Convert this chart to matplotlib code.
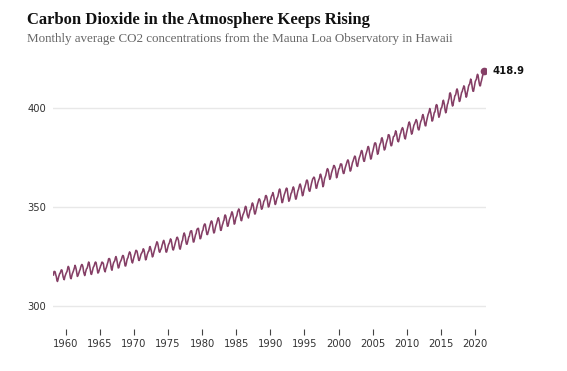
import pandas as pd
import matplotlib
matplotlib.use('Agg')
import matplotlib.pyplot as plt
import matplotlib.dates as mdates

# monthly mean CO2 (ppm), Mauna Loa, starting March 1958
start_month = '1958-03-01'
co2 = [
    315.70, 317.45, 317.51, 317.24, 315.86, 314.93, 313.20, 312.43, 313.33, 314.67,  # 1958
    315.58, 316.49, 316.65, 317.72, 318.29, 318.15, 316.54, 314.80, 313.84, 313.33, 314.81, 315.58,  # 1959
    316.43, 316.98, 317.58, 319.03, 320.03, 319.59, 318.18, 315.91, 314.16, 313.83, 315.00, 316.19,
    316.89, 317.70, 318.54, 319.48, 320.58, 319.77, 318.57, 316.79, 314.99, 315.31, 316.10, 317.01,
    317.94, 318.55, 319.68, 320.57, 321.02, 320.62, 319.61, 317.40, 316.25, 315.42, 316.69, 317.70,
    318.74, 319.07, 319.86, 321.38, 322.25, 321.48, 319.74, 317.77, 316.21, 315.99, 317.07, 318.35,
    319.57, 320.01, 320.74, 321.84, 322.26, 321.89, 320.44, 318.69, 316.70, 316.87, 317.68, 318.71,  # 1964
    319.44, 320.44, 320.89, 322.14, 322.17, 321.87, 321.21, 318.87, 317.81, 317.30, 318.87, 319.42,
    320.62, 321.59, 322.39, 323.87, 324.01, 323.75, 322.39, 320.37, 318.64, 318.10, 319.79, 321.08,
    322.07, 322.50, 323.04, 324.42, 325.00, 324.09, 322.54, 320.92, 319.25, 319.39, 320.73, 321.96,
    322.57, 323.15, 323.89, 325.02, 325.57, 325.36, 324.14, 322.11, 320.33, 320.25, 321.32, 322.89,
    324.00, 324.42, 325.63, 326.66, 327.38, 326.71, 325.88, 323.66, 322.38, 321.78, 322.85, 324.12,  # 1969
    325.06, 325.98, 326.93, 328.13, 328.08, 327.67, 326.34, 324.69, 323.10, 323.06, 324.01, 325.13,
    326.17, 326.68, 327.17, 327.79, 328.93, 328.57, 327.36, 325.43, 323.36, 323.56, 324.80, 326.01,
    326.77, 327.63, 327.75, 329.72, 330.07, 329.09, 328.04, 326.32, 324.84, 325.20, 326.50, 327.55,
    328.55, 329.56, 330.30, 331.50, 332.48, 332.07, 330.87, 329.31, 327.51, 327.18, 328.16, 328.64,
    329.35, 330.71, 331.48, 332.65, 333.19, 332.20, 331.07, 329.15, 327.33, 327.28, 328.31, 329.58,  # 1974
    330.73, 331.46, 331.90, 333.17, 333.94, 333.45, 331.97, 329.95, 328.50, 328.34, 329.37, 330.58,
    331.59, 332.75, 333.52, 334.64, 334.77, 334.00, 333.06, 330.68, 328.95, 328.75, 330.15, 331.62,
    332.66, 333.13, 334.95, 336.13, 336.93, 336.17, 334.88, 332.56, 331.29, 331.27, 332.41, 333.60,
    334.95, 335.25, 336.66, 337.69, 338.03, 338.01, 336.41, 334.41, 332.37, 332.41, 333.75, 334.90,
    336.14, 336.69, 338.27, 338.95, 339.21, 339.26, 337.54, 335.75, 333.98, 334.19, 335.31, 336.81,  # 1979
    337.90, 338.34, 340.01, 340.93, 341.48, 341.33, 339.40, 337.70, 336.19, 336.15, 337.27, 338.32,
    339.29, 340.55, 341.61, 342.53, 343.03, 342.54, 340.78, 338.44, 336.95, 337.08, 338.58, 339.88,
    340.96, 341.73, 342.81, 343.97, 344.63, 343.79, 342.32, 340.09, 338.28, 338.29, 339.60, 340.90,
    341.68, 342.90, 343.33, 345.25, 346.03, 345.63, 344.19, 342.27, 340.35, 340.38, 341.59, 343.05,
    344.10, 344.79, 345.52, 346.84, 347.63, 346.98, 345.53, 343.55, 341.40, 341.67, 343.10, 344.70,  # 1984
    345.21, 346.16, 347.74, 348.34, 349.06, 348.38, 346.72, 345.02, 343.27, 343.13, 344.49, 345.88,
    346.56, 347.28, 348.01, 349.77, 350.38, 349.93, 348.16, 346.08, 345.22, 344.51, 345.93, 347.21,
    348.52, 348.73, 349.73, 351.31, 352.09, 351.53, 350.11, 348.08, 346.52, 346.59, 347.96, 349.16,
    350.39, 351.64, 352.41, 353.69, 354.21, 353.72, 352.69, 350.40, 348.92, 349.13, 350.20, 351.41,
    352.91, 353.27, 353.96, 355.64, 355.86, 355.37, 353.99, 351.81, 350.05, 350.25, 351.49, 352.85,  # 1989
    353.80, 355.04, 355.73, 356.32, 357.32, 356.34, 354.84, 353.01, 351.31, 351.62, 353.07, 354.33,
    354.84, 355.73, 357.23, 358.66, 359.13, 358.13, 356.19, 353.85, 352.25, 352.35, 353.81, 355.12,
    356.25, 357.11, 357.86, 359.09, 359.59, 359.33, 357.01, 354.94, 352.96, 353.32, 354.32, 355.57,
    357.00, 357.31, 358.47, 359.27, 360.19, 359.52, 357.33, 355.64, 354.03, 354.12, 355.41, 356.91,
    358.24, 358.92, 359.99, 361.23, 361.65, 360.81, 359.38, 357.46, 355.73, 356.07, 357.53, 358.98,  # 1994
    359.92, 360.86, 361.83, 363.30, 363.69, 363.19, 361.64, 359.12, 358.17, 357.99, 359.45, 360.68,
    362.07, 363.24, 364.17, 364.57, 365.13, 364.92, 363.55, 361.38, 359.54, 359.58, 360.89, 362.24,
    363.09, 364.03, 364.51, 366.35, 366.64, 365.59, 364.31, 362.25, 360.29, 360.82, 362.49, 364.38,
    365.26, 365.98, 367.24, 368.66, 369.42, 368.99, 367.82, 365.95, 364.02, 364.40, 365.52, 367.13,
    368.18, 369.07, 369.68, 370.99, 370.96, 370.30, 369.45, 366.90, 364.81, 365.37, 366.72, 368.10,  # 1999
    369.29, 369.55, 370.60, 371.82, 371.58, 371.70, 369.86, 368.13, 367.00, 367.03, 368.37, 369.67,
    370.59, 371.51, 372.43, 373.37, 373.85, 373.22, 371.50, 369.61, 368.18, 368.45, 369.76, 371.24,
    372.53, 373.20, 374.12, 375.02, 375.76, 375.52, 374.01, 371.85, 370.75, 370.55, 372.25, 373.79,
    374.88, 375.64, 376.45, 377.73, 378.60, 378.28, 376.70, 374.38, 373.17, 373.14, 374.66, 375.99,
    377.00, 377.87, 378.88, 380.35, 380.62, 379.69, 377.47, 376.01, 374.25, 374.46, 376.16, 377.51,  # 2004
    378.46, 379.73, 380.77, 382.29, 382.45, 382.21, 380.74, 378.74, 376.70, 377.00, 378.35, 380.11,
    381.38, 382.19, 382.67, 384.61, 385.03, 384.05, 382.46, 380.41, 378.85, 379.13, 380.15, 381.82,
    382.89, 383.90, 384.58, 386.50, 386.56, 386.10, 384.50, 381.99, 380.96, 381.12, 382.45, 383.95,
    385.52, 385.82, 386.03, 387.21, 388.54, 387.76, 386.36, 384.09, 383.18, 382.99, 384.19, 385.56,
    386.94, 387.48, 388.82, 389.55, 390.14, 389.48, 388.03, 386.11, 384.74, 384.43, 386.02, 387.42,  # 2009
    388.71, 390.20, 391.17, 392.46, 393.00, 392.15, 390.20, 388.35, 386.85, 387.24, 388.67, 389.79,
    391.33, 391.86, 392.60, 393.25, 394.19, 393.74, 392.51, 390.13, 389.08, 389.00, 390.28, 391.86,
    393.12, 393.86, 394.40, 396.18, 396.74, 395.71, 394.36, 392.39, 391.11, 391.05, 392.98, 394.34,
    395.55, 396.80, 397.43, 398.41, 399.78, 398.60, 397.32, 395.20, 393.45, 393.70, 395.16, 396.84,
    397.85, 398.01, 399.77, 401.38, 401.78, 401.25, 399.10, 397.03, 395.38, 396.03, 397.28, 398.91,  # 2014
    399.98, 400.28, 401.54, 403.28, 403.96, 402.80, 401.31, 398.93, 397.63, 398.29, 400.16, 401.85,
    402.56, 404.12, 404.87, 407.45, 407.72, 406.83, 404.41, 402.27, 401.05, 401.59, 403.55, 404.45,
    406.17, 406.46, 407.22, 409.04, 409.69, 408.88, 407.12, 405.13, 403.37, 403.63, 405.12, 406.81,
    407.96, 408.32, 409.41, 410.24, 411.24, 410.79, 408.71, 406.99, 405.51, 406.00, 408.02, 409.07,
    410.83, 411.75, 411.97, 413.32, 414.66, 413.92, 411.77, 409.95, 408.54, 408.53, 410.27, 411.76,  # 2019
    413.40, 414.11, 414.51, 416.21, 417.07, 416.39, 414.38, 412.55, 411.29, 411.28, 412.89, 413.89,
    415.15, 416.47, 417.16, 418.90,  # 2021
]
x_tick_years = [1960, 1965, 1970, 1975, 1980, 1985, 1990, 1995, 2000, 2005, 2010, 2015, 2020]
y_ticks = [300, 350, 400]

title = 'Carbon Dioxide in the Atmosphere Keeps Rising'
subtitle = 'Monthly average CO2 concentrations from the Mauna Loa Observatory in Hawaii'

line_color = '#853f66'

dates = pd.date_range(start_month, periods=len(co2), freq='MS') + pd.Timedelta(days=14)

fig = plt.figure(figsize=(5.67, 3.71), dpi=100)
ax = fig.add_axes([0.0935, 0.159, 0.7635, 0.667])

for y in y_ticks:
    ax.axhline(y, color='#e8e8e8', lw=1, zorder=0)

ax.plot(dates, co2, color=line_color, lw=1.15, zorder=2)
ax.plot(dates[-1], co2[-1], 'o', color=line_color, ms=4.5, zorder=3)
ax.annotate(f'{co2[-1]:.1f}', (dates[-1], co2[-1]), xytext=(6.5, 0),
            textcoords='offset points', va='center', ha='left',
            fontsize=7.2, fontweight='bold', color='#111111')

ax.set_ylim(297, 422)
ax.set_xlim(pd.Timestamp('1958-02-20'), pd.Timestamp('2021-08-08'))
ax.set_yticks(y_ticks)
ax.set_xticks([pd.Timestamp(f'{yr}-01-01') for yr in x_tick_years])
ax.xaxis.set_major_formatter(mdates.DateFormatter('%Y'))

for s in ['top', 'right', 'left']:
    ax.spines[s].set_visible(False)
ax.spines['bottom'].set_position(('outward', 12))
ax.spines['bottom'].set_color('none')
ax.tick_params(axis='x', length=4.5, width=0.8, color='#444444', pad=3,
               labelsize=7.2, labelcolor='#333333')
ax.tick_params(axis='y', length=0, pad=5, labelsize=7.2, labelcolor='#333333')
ax.set_facecolor('none')

fig.text(27 / 567, 1 - 24 / 371, title, fontsize=12, fontweight='bold',
         family='Liberation Serif', color='#111111')
fig.text(27 / 567, 1 - 42 / 371, subtitle, fontsize=9.4,
         family='Liberation Serif', color='#666666')

fig.savefig('out.png', dpi=100)
